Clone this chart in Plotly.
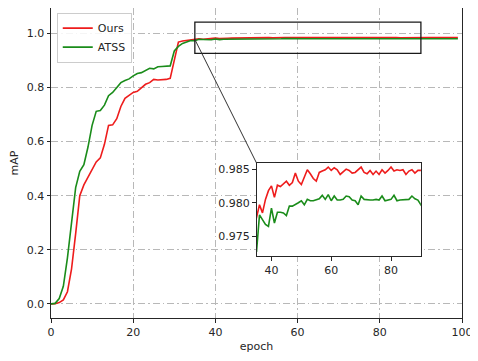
import plotly.graph_objects as go

epochs = list(range(100))

ours = [
    0.000, 0.001, 0.005, 0.015, 0.045, 0.130, 0.260, 0.400, 0.440, 0.470,
    0.500, 0.525, 0.540, 0.590, 0.660, 0.662, 0.685, 0.730, 0.760, 0.770,
    0.782, 0.786, 0.800, 0.812, 0.818, 0.830, 0.828, 0.829, 0.830, 0.834,
    0.905, 0.968, 0.972, 0.974, 0.976,
    0.9778, 0.9797, 0.9785, 0.9805, 0.9818, 0.9825, 0.9808, 0.9826, 0.9824, 0.9828,
    0.9832, 0.9826, 0.9830, 0.9844, 0.9832, 0.9827, 0.9838, 0.9849, 0.9843, 0.9836,
    0.9832, 0.9845, 0.9847, 0.9849, 0.9853, 0.9848, 0.9852, 0.9849, 0.9842, 0.9846,
    0.9850, 0.9848, 0.9844, 0.9845, 0.9849, 0.9853, 0.9845, 0.9843, 0.9848, 0.9842,
    0.9847, 0.9842, 0.9849, 0.9844, 0.9848, 0.9853, 0.9847, 0.9849, 0.9848, 0.9849,
    0.9842, 0.9847, 0.9849, 0.9844, 0.9848, 0.9848, 0.9846, 0.9849, 0.9845, 0.9848,
    0.9850, 0.9846, 0.9848, 0.9845, 0.9847,
]

atss = [
    0.000, 0.002, 0.020, 0.065, 0.170, 0.300, 0.430, 0.490, 0.515, 0.580,
    0.660, 0.712, 0.715, 0.735, 0.770, 0.782, 0.800, 0.818, 0.826, 0.832,
    0.843, 0.852, 0.855, 0.862, 0.871, 0.869, 0.877, 0.878, 0.879, 0.880,
    0.935, 0.952, 0.963, 0.970, 0.974,
    0.9727, 0.9782, 0.9775, 0.9768, 0.9765, 0.9792, 0.9770, 0.9786, 0.9786, 0.9785,
    0.9781, 0.9795, 0.9795, 0.9797, 0.9800, 0.9803, 0.9797, 0.9805, 0.9803, 0.9803,
    0.9804, 0.9806, 0.9811, 0.9805, 0.9812, 0.9803, 0.9810, 0.9804, 0.9804, 0.9805,
    0.9810, 0.9809, 0.9804, 0.9803, 0.9797, 0.9810, 0.9805, 0.9804, 0.9804, 0.9804,
    0.9805, 0.9804, 0.9810, 0.9803, 0.9804, 0.9805, 0.9811, 0.9803, 0.9804, 0.9804,
    0.9804, 0.9805, 0.9810, 0.9806, 0.9804, 0.9797, 0.9803, 0.9805, 0.9804, 0.9806,
    0.9804, 0.9803, 0.9805, 0.9804, 0.9803,
]

x_ticks = [0, 20, 40, 60, 80, 100]
y_ticks = [0.0, 0.2, 0.4, 0.6, 0.8, 1.0]
inset_x_ticks = [40, 60, 80]
inset_y_ticks = [0.975, 0.980, 0.985]

main_xrange = [0, 100]
main_yrange = [-0.052, 1.094]
inset_xrange = [35, 90]
inset_yrange = [0.9721, 0.9859]
zoom_box = dict(x0=35, x1=90, y0=0.926, y1=1.042)
inset_dom_x = [0.5, 0.9]
inset_dom_y = [0.2, 0.5]

RED = "#ee1c1c"
GREEN = "#1a8c1a"
AX = "#262626"
GRID = "#b8b8b8"
FONT = "DejaVu Sans"

fig = go.Figure()
fig.add_trace(go.Scatter(x=epochs, y=ours, mode="lines", name="Ours",
                         line=dict(color=RED, width=1.6), xaxis="x", yaxis="y"))
fig.add_trace(go.Scatter(x=epochs, y=atss, mode="lines", name="ATSS",
                         line=dict(color=GREEN, width=1.6), xaxis="x", yaxis="y"))
fig.add_trace(go.Scatter(x=epochs, y=ours, mode="lines", showlegend=False,
                         line=dict(color=RED, width=1.6), xaxis="x2", yaxis="y2"))
fig.add_trace(go.Scatter(x=epochs, y=atss, mode="lines", showlegend=False,
                         line=dict(color=GREEN, width=1.6), xaxis="x2", yaxis="y2"))

axis_common = dict(showline=True, mirror=True, linecolor=AX, linewidth=1,
                   ticks="outside", ticklen=3.5, tickwidth=1, tickcolor=AX,
                   zeroline=False, automargin=False,
                   tickfont=dict(family=FONT, size=11, color=AX))

# page body adds an 8px offset; the figure is sized to fit the 478x361 window
fig.update_layout(
    width=470, height=353,
    margin=dict(l=43, r=16, t=0, b=43),
    paper_bgcolor="white", plot_bgcolor="white",
    font=dict(family=FONT, size=11, color=AX),
    xaxis=dict(domain=[0, 1], range=main_xrange, tickvals=x_ticks,
               showgrid=True, gridcolor=GRID, gridwidth=0.8, griddash="7px,3px,1.5px,3px",
               title=dict(text="epoch", standoff=4, font=dict(family=FONT, size=11, color=AX)),
               anchor="y", **axis_common),
    yaxis=dict(domain=[0, 1], range=main_yrange, tickvals=y_ticks, tickformat=".1f",
               showgrid=True, gridcolor=GRID, gridwidth=0.8, griddash="7px,3px,1.5px,3px",
               title=dict(text="mAP", standoff=6, font=dict(family=FONT, size=11, color=AX)),
               anchor="x", **axis_common),
    xaxis2=dict(domain=inset_dom_x, range=inset_xrange, tickvals=inset_x_ticks,
                showgrid=False, anchor="y2", **axis_common),
    yaxis2=dict(domain=inset_dom_y, range=inset_yrange, tickvals=inset_y_ticks,
                tickformat=".3f", showgrid=False, anchor="x2", **axis_common),
    legend=dict(x=0.014, y=0.985, xanchor="left", yanchor="top",
                bgcolor="rgba(255,255,255,0.85)", bordercolor="#cccccc", borderwidth=1,
                font=dict(family=FONT, size=11, color=AX), tracegroupgap=0),
    showlegend=True,
)

# zoom rectangle on main axes
fig.add_shape(type="rect", xref="x", yref="y", line=dict(color="#1a1a1a", width=1.3),
              fillcolor="rgba(0,0,0,0)", **zoom_box)

# connector from main-curve point to inset top-left corner
def main_to_paper(x, y):
    px = (x - main_xrange[0]) / (main_xrange[1] - main_xrange[0])
    py = (y - main_yrange[0]) / (main_yrange[1] - main_yrange[0])
    return px, py

start_x, start_y = main_to_paper(inset_xrange[0], ours[inset_xrange[0]])
fig.add_shape(type="line", xref="paper", yref="paper",
              x0=start_x, y0=start_y, x1=inset_dom_x[0], y1=inset_dom_y[1],
              line=dict(color="#333333", width=1))

fig.write_html("out.html")
